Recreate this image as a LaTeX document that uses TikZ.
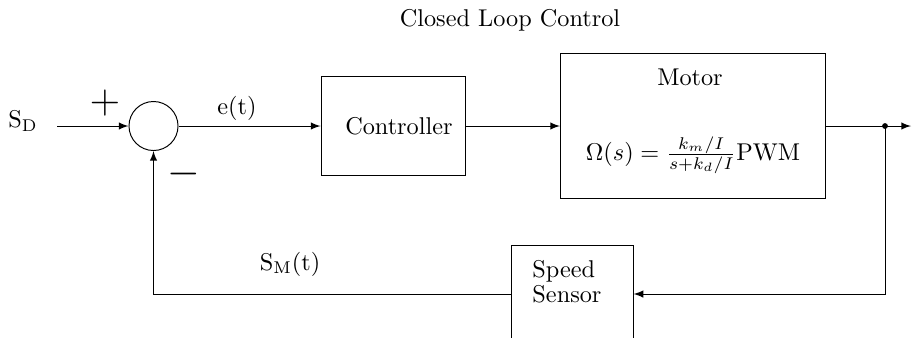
\documentclass[tikz,border=0pt]{standalone}
\usetikzlibrary{arrows}
\begin{document}
\begin{tikzpicture}[x=0.412pt,y=-0.412pt,>=latex,
  block/.style={draw, rectangle, inner sep=0pt},
  sumnode/.style={draw, circle, minimum size=20.2pt, inner sep=0pt},
  sign/.style={font=\fontsize{17}{20}\selectfont},
  lbl/.style={inner sep=0pt}]
\clip (0,0) rectangle (912,337);
\useasboundingbox (0,0) rectangle (912,337);

% title
\node[lbl] (title) at (510,20) {Closed Loop Control};

% summing junction and blocks
\node[sumnode] (sum) at (153.5,126) {};
\node[block, minimum width=59.7pt, minimum height=40.4pt] (ctrl) at (393.5,126) {\hspace{4.5pt}Controller};
\node[block, minimum width=109.2pt, minimum height=59.5pt] (motor) at (693,126) {};
\node[lbl] (motorname) at (690,77) {Motor};
\node[lbl] (motoreq) at (693,155) {$\Omega(s) = \frac{k_m/I}{s+k_d/I}\mathrm{PWM}$};
\node[block, minimum width=49.9pt, minimum height=39.6pt] (sensor) at (572.5,294) {};
\node[lbl, align=left, anchor=base west, font={\fontsize{10}{10.3}\selectfont}] (sensortext) at (532,302) {Speed\\Sensor};

% signal labels
\node[lbl] (sd) at (23,121) {$\mathrm{S_D}$};
\node[lbl] (et) at (237,108) {e(t)};
\node[lbl] (sm) at (290,264) {$\mathrm{S_M(t)}$};
\node[sign] (plus) at (105,103) {$+$};
\node[sign] (minus) at (184,174) {$-$};

% connectors
\coordinate (in) at (57,126);
\coordinate (split) at (885,126);
\coordinate (out) at (911,126);
\draw[->] (in) -- (sum.west);
\draw[->] (sum.east) -- (ctrl.west);
\draw[->] (ctrl.east) -- (motor.west);
\draw (motor.east) -- (split);
\draw[->] (split) -- (out);
\fill (split) circle (1.2pt);
\draw[->] (split) |- (sensor.east);
\draw[->] (sensor.west) -| (sum.south);
\end{tikzpicture}
\end{document}
